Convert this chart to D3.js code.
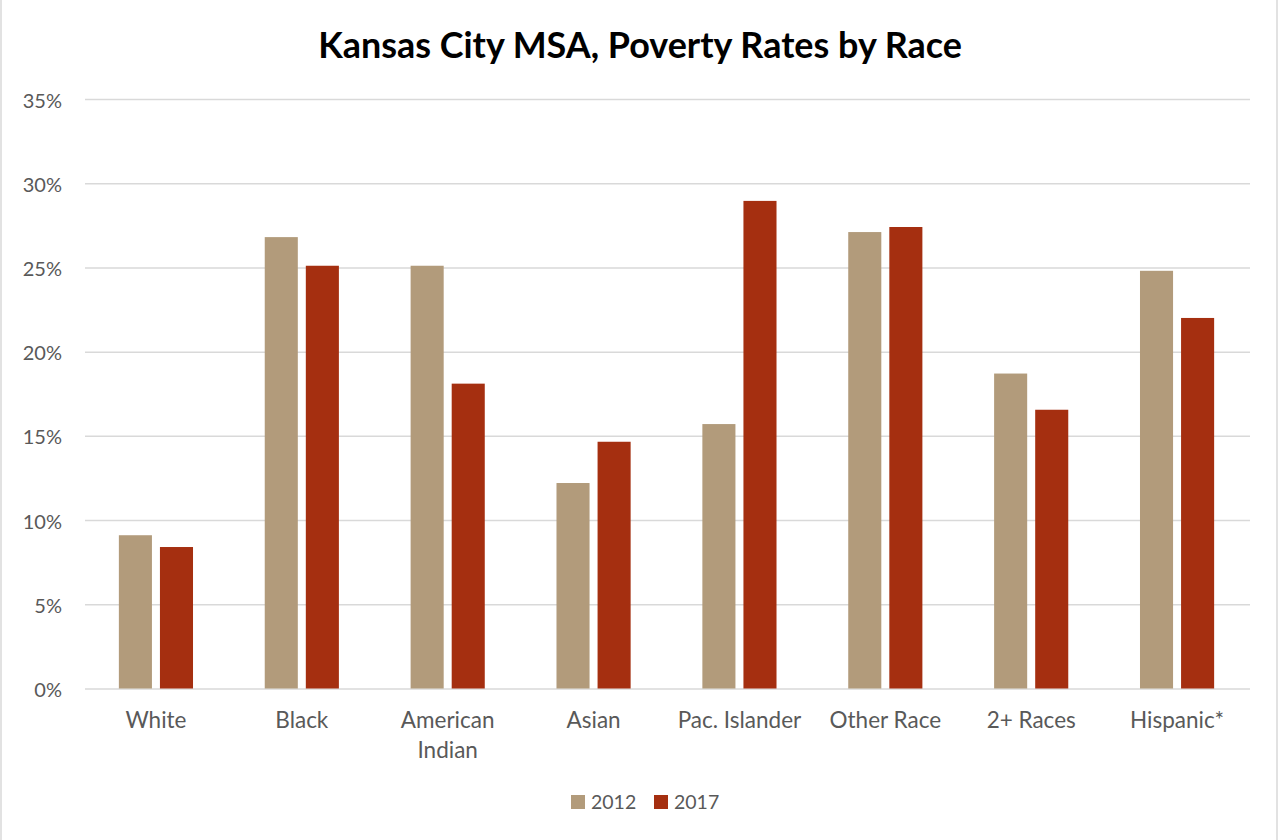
<!DOCTYPE html>
<html>
<head>
<meta charset="utf-8">
<script src="https://cdn.jsdelivr.net/npm/d3@7"></script>
<style>
    body { margin: 0; background: #fff; }
    text { font-family: Lato, "Open Sans", sans-serif; }
</style>
</head>
<body>
<div id="main_div" style="width:1280px;height:840px;"></div>
<script>
/** chart data **/
const categories = ["White", "Black", "American Indian", "Asian", "Pac. Islander", "Other Race", "2+ Races", "Hispanic*"];
const years = ["2012", "2017"];
const rate2012 = [9.1, 26.8, 25.1, 12.2, 15.7, 27.1, 18.7, 24.8];
const rate2017 = [8.4, 25.1, 18.1, 14.65, 28.95, 27.4, 16.55, 22.0];
const yTicks = [0, 5, 10, 15, 20, 25, 30, 35];

const colors = { "2012": "#b29b7b", "2017": "#a52f10" };
const size = [1280, 840];
const plot = { left: 85, right: 1250, top: 99, bottom: 688.5 };

let svg, x0, x1, yScale;

render();

function render() {
    svg = d3.select("#main_div")
        .append("svg")
        .attr("width", size[0])
        .attr("height", size[1]);

    // chart frame
    svg.append("rect")
        .attr("x", 1).attr("y", -2)
        .attr("width", 1276).attr("height", 846)
        .attr("fill", "none")
        .attr("stroke", "#d9d9d9")
        .attr("stroke-width", 1.5);

    drawTitle();
    drawAxes();
    drawBars();
    drawLegend();
}

function drawTitle() {
    let t = svg.append("text")
        .attr("x", 640)
        .attr("y", 58)
        .attr("text-anchor", "middle")
        .style("font-weight", 700)
        .style("font-size", "32px")
        .style("fill", "#000")
        .text("Kansas City MSA, Poverty Rates by Race");
    // fit to the width seen in the reference
    let w = t.node().getComputedTextLength();
    t.style("font-size", (32 * 644 / w).toFixed(2) + "px");
}

function drawAxes() {
    yScale = d3.scaleLinear()
        .domain([0, 35])
        .range([plot.bottom, plot.top]);

    x0 = d3.scaleBand()
        .domain(categories)
        .range([plot.left - 2, plot.right])
        .padding(0);

    x1 = d3.scaleBand()
        .domain(years)
        .range([0, x0.bandwidth()])
        .paddingInner(0.195)
        .paddingOuter(0.873);

    /** gridlines **/
    let yAxis = d3.axisLeft(yScale)
        .tickValues(yTicks)
        .tickSize(-(plot.right - plot.left))
        .tickPadding(23)
        .tickFormat(d => d + "%");

    let yg = svg.append("g")
        .attr("class", "axis")
        .attr("transform", "translate(" + plot.left + ",0)")
        .call(yAxis);
    yg.select(".domain").remove();
    yg.selectAll("line")
        .attr("stroke", "#d9d9d9")
        .attr("stroke-width", 1.5);
    yg.selectAll("text")
        .attr("fill", "#595959")
        .style("font-size", "20px")
        .attr("dy", "0.4em");

    /** category labels **/
    let xAxis = d3.axisBottom(x0).tickSize(0).tickPadding(0);
    let xg = svg.append("g")
        .attr("transform", "translate(0," + plot.bottom + ")")
        .call(xAxis);
    xg.select(".domain").remove();
    xg.selectAll("text").remove();
    xg.selectAll(".tick").each(function (d) {
        let words = d === "American Indian" ? ["American", "Indian"] : [d];
        let txt = d3.select(this).append("text")
            .attr("text-anchor", "middle")
            .attr("fill", "#595959")
            .style("font-size", "22.5px");
        words.forEach(function (w, i) {
            txt.append("tspan")
                .attr("x", 0)
                .attr("y", 39 + i * 30)
                .text(w);
        });
    });
}

function drawBars() {
    let rows = categories.map(function (c, i) {
        return { cat: c, values: [
            { year: "2012", v: rate2012[i] },
            { year: "2017", v: rate2017[i] }
        ] };
    });

    let groups = svg.append("g")
        .attr("id", "plots")
        .selectAll("g")
        .data(rows)
        .enter()
        .append("g")
        .attr("transform", d => "translate(" + x0(d.cat) + ",0)");

    groups.selectAll("rect")
        .data(d => d.values)
        .enter()
        .append("rect")
        .attr("x", d => x1(d.year))
        .attr("y", d => yScale(d.v))
        .attr("width", x1.bandwidth())
        .attr("height", d => yScale(0) - yScale(d.v))
        .attr("fill", d => colors[d.year]);
}

function drawLegend() {
    let lx = [571, 654];
    years.forEach(function (yr, i) {
        svg.append("rect")
            .attr("x", lx[i])
            .attr("y", 795)
            .attr("width", 14)
            .attr("height", 14)
            .attr("fill", colors[yr]);
        svg.append("text")
            .attr("x", lx[i] + 20)
            .attr("y", 809)
            .attr("fill", "#595959")
            .style("font-size", "19.5px")
            .text(yr);
    });
}
</script>
</body>
</html>
